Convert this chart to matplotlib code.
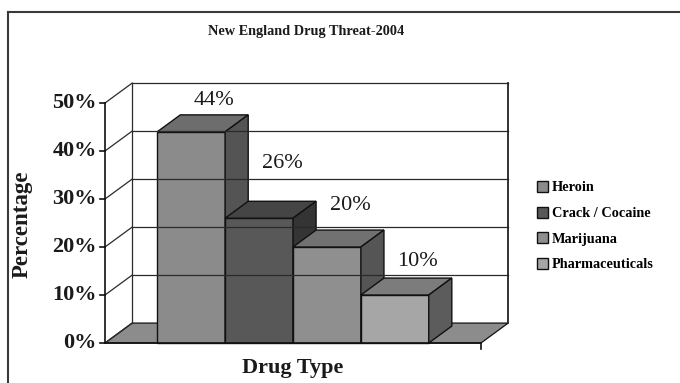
import numpy as np
import matplotlib
matplotlib.use("Agg")
import matplotlib.pyplot as plt
from matplotlib.patches import Polygon, Patch

# drug threat shares, New England 2004
drugs = ["Heroin", "Crack / Cocaine", "Marijuana", "Pharmaceuticals"]
shares = [44, 26, 20, 10]
yticks = [0, 10, 20, 30, 40, 50]

FRONT = ["#8b8b8b", "#585858", "#8f8f8f", "#a6a6a6"]
TOP = ["#6d6d6d", "#454545", "#717171", "#7c7c7c"]
SIDE = ["#545454", "#343434", "#555555", "#5c5c5c"]
FLOOR = "#8c8c8c"

# 3-d geometry in data units (x: bar widths, y: percent)
PAD = 0.77          # floor space left/right of the bar group
DX, DY = 0.40, 4.15  # wall depth offset
BAR_DEPTH = 0.85     # fraction of wall depth used by the bars
LABEL_LIFT = [6.6, 11.5, 8.7, 6.9]

SERIF = "Liberation Serif"
INK = "#1a1a1a"

fig = plt.figure(figsize=(6.8, 3.83), dpi=100)
ax = fig.add_axes([105 / 680, 40 / 383, 376 / 680, 240 / 383])
n = len(shares)
W = n + 2 * PAD
ax.set_xlim(0, W)
ax.set_ylim(0, 50)
ax.axis("off")

line_kw = dict(color="#2a2a2a", lw=0.9, clip_on=False)

# floor
ax.add_patch(Polygon([(0, 0), (W, 0), (W + DX, DY), (DX, DY)], closed=True,
                     facecolor=FLOOR, edgecolor="#111", lw=0.9, clip_on=False))

# back wall gridlines and side wall diagonals
for v in yticks:
    if v > 0:
        ax.plot([DX, W + DX], [v + DY, v + DY], **line_kw)
    ax.plot([0, DX], [v, v + DY], **line_kw)
ax.plot([DX, DX], [DY, 50 + DY], **line_kw)
ax.plot([W + DX, W + DX], [DY, 50 + DY], color="#222", lw=1.3, clip_on=False)

# front axes
ax.plot([0, 0], [0, 50], color="#111", lw=1.2, clip_on=False)
ax.plot([0, W], [0, 0], color="#111", lw=1.2, clip_on=False)
ax.plot([W, W], [0, -1.2], color="#111", lw=1.2, clip_on=False)
for v in yticks:
    ax.plot([-0.07, 0], [v, v], color="#111", lw=1.2, clip_on=False)
    ax.text(-0.12, v, f"{v}%", ha="right", va="center", fontsize=16,
            fontweight="bold", family=SERIF, color=INK)

# bars, drawn left to right so each front face hides the previous side face
ddx, ddy = DX * BAR_DEPTH, DY * BAR_DEPTH
for i, (v, fc, tc, sc) in enumerate(zip(shares, FRONT, TOP, SIDE)):
    x0 = PAD + i
    x1 = x0 + 1
    ax.add_patch(Polygon([(x0, 0), (x1, 0), (x1, v), (x0, v)], closed=True,
                         facecolor=fc, edgecolor="#111", lw=1.0, clip_on=False))
    ax.add_patch(Polygon([(x0, v), (x1, v), (x1 + ddx, v + ddy), (x0 + ddx, v + ddy)],
                         closed=True, facecolor=tc, edgecolor="#111", lw=1.0, clip_on=False))
    ax.add_patch(Polygon([(x1, 0), (x1 + ddx, ddy), (x1 + ddx, v + ddy), (x1, v)],
                         closed=True, facecolor=sc, edgecolor="#111", lw=1.0, clip_on=False))
    ax.text(x0 + 0.5 + ddx, v + LABEL_LIFT[i], f"{v}%", ha="center", va="center",
            fontsize=16, family=SERIF, color=INK)

# axis titles
fig.text(22 / 680, 1 - 224 / 383, "Percentage", rotation=90, ha="center", va="center",
         fontsize=16.5, fontweight="bold", family=SERIF, color=INK)
fig.text(293 / 680, 1 - 368 / 383, "Drug Type", ha="center", va="center",
         fontsize=16, fontweight="bold", family=SERIF, color=INK)
fig.text(306 / 680, 1 - 31 / 383, "New England Drug Threat-2004", ha="center", va="center",
         fontsize=10.3, fontweight="bold", family=SERIF, color=INK)

# legend
handles = [Patch(facecolor=c, edgecolor="#111", lw=1.0) for c in FRONT]
fig.legend(handles, drugs, loc="upper left", bbox_to_anchor=(537 / 680, 1 - 181 / 383),
           frameon=False, prop=dict(family=SERIF, weight="bold", size=10.3),
           handlelength=0.8, handleheight=0.8, handletextpad=0.25, labelspacing=0.85,
           borderaxespad=0, borderpad=0)

# chart border
fig.add_artist(plt.Line2D([8 / 680, 8 / 680], [0, 1 - 12 / 383], transform=fig.transFigure,
                          color="#3a3a3a", lw=1.5))
fig.add_artist(plt.Line2D([8 / 680, 1], [1 - 12 / 383, 1 - 12 / 383], transform=fig.transFigure,
                          color="#3a3a3a", lw=1.5))

fig.savefig("out.png", dpi=100)
